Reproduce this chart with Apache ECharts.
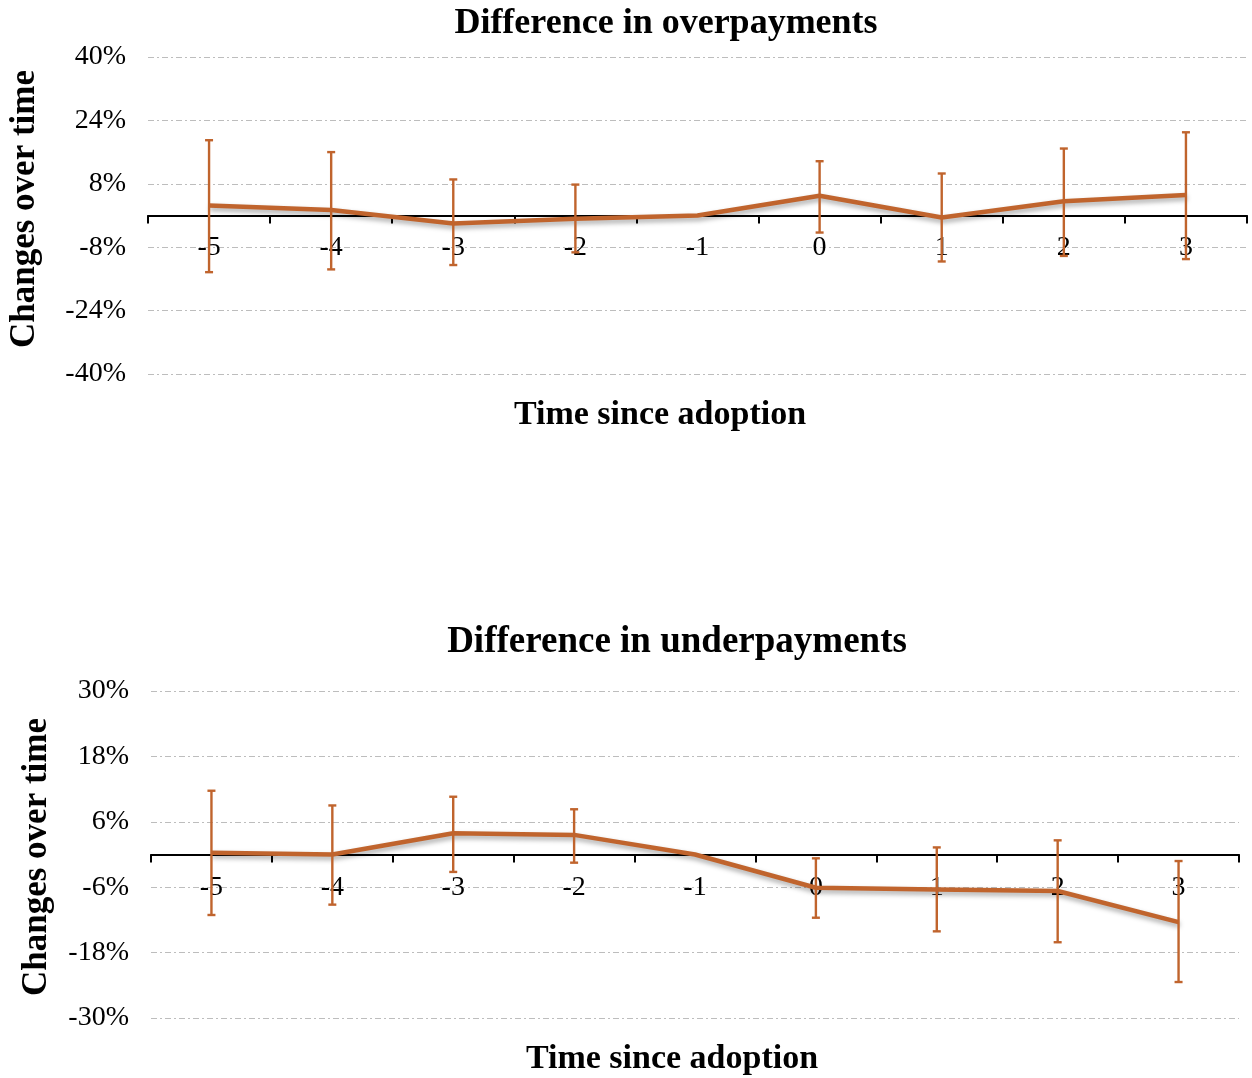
<!DOCTYPE html>
<html>
<head>
<meta charset="utf-8">
<script src="https://cdn.jsdelivr.net/npm/echarts@6/dist/echarts.min.js"></script>
<style>
html,body{margin:0;padding:0;background:#fff;}
#chart{width:1252px;height:1078px;}
</style>
</head>
<body>
<div id="chart"></div>
<script>
const categories = ['-5','-4','-3','-2','-1','0','1','2','3'];

const overTitle = 'Difference in overpayments';
const overValues = [2.5, 1.4, -2.0, -0.8, 0, 5.0, -0.5, 3.6, 5.2];
const overLow    = [-14.3, -13.6, -12.5, -9.3, null, -4.3, -11.6, -10.2, -11.0];
const overHigh   = [19.0, 16.0, 9.1, 7.8, null, 13.7, 10.6, 16.9, 21.0];
const overTicks  = {min: -40, max: 40, interval: 16};

const underTitle = 'Difference in underpayments';
const underValues = [0.3, 0.0, 3.9, 3.6, 0, -6.1, -6.4, -6.7, -12.4];
const underLow    = [-11.1, -9.2, -3.2, -1.5, null, -11.6, -14.1, -16.1, -23.4];
const underHigh   = [11.7, 9.0, 10.6, 8.3, null, -0.7, 1.3, 2.6, -1.2];
const underTicks  = {min: -30, max: 30, interval: 12};

const xName = 'Time since adoption';
const yName = 'Changes over time';

const COLOR = '#C0642D';
const SERIF = '"Liberation Serif", "Times New Roman", serif';

function errData(low, high) {
  const out = [];
  for (let i = 0; i < low.length; i++) {
    if (low[i] != null && high[i] != null) out.push([i, low[i], high[i]]);
  }
  return out;
}

function renderErr(params, api) {
  const x = api.value(0);
  const pHi = api.coord([x, api.value(2)]);
  const pLo = api.coord([x, api.value(1)]);
  const cw = 4;
  const st = {stroke: COLOR, lineWidth: 2.4};
  return {
    type: 'group',
    children: [
      {type: 'line', shape: {x1: pHi[0], y1: pHi[1], x2: pLo[0], y2: pLo[1]}, style: st},
      {type: 'line', shape: {x1: pHi[0]-cw, y1: pHi[1], x2: pHi[0]+cw, y2: pHi[1]}, style: st},
      {type: 'line', shape: {x1: pLo[0]-cw, y1: pLo[1], x2: pLo[0]+cw, y2: pLo[1]}, style: st}
    ]
  };
}

function xAxisCfg(gi, lblMargin) {
  return {
    type: 'category', gridIndex: gi, data: categories, boundaryGap: true,
    axisLine: {show: true, onZero: true, lineStyle: {color: '#000', width: 2}},
    axisTick: {show: true, length: 8, lineStyle: {color: '#000', width: 2}},
    axisLabel: {color: '#000', fontFamily: SERIF, fontSize: 28, margin: lblMargin},
    splitLine: {show: false}
  };
}
function yAxisCfg(gi, t) {
  return {
    type: 'value', gridIndex: gi, min: t.min, max: t.max, interval: t.interval,
    axisLine: {show: false}, axisTick: {show: false},
    axisLabel: {color: '#000', fontFamily: SERIF, fontSize: 28, margin: 22, formatter: '{value}%'},
    splitLine: {show: true, lineStyle: {color: '#bdbdbd', width: 1, type: [6, 3, 2, 3]}}
  };
}
function lineSeries(idx, vals) {
  return {
    type: 'line', xAxisIndex: idx, yAxisIndex: idx, data: vals,
    symbol: 'none', z: 3,
    lineStyle: {color: COLOR, width: 4.5, shadowColor: 'rgba(0,0,0,0.35)', shadowBlur: 5, shadowOffsetY: 3, shadowOffsetX: 1}
  };
}
function errSeries(idx, low, high) {
  return {
    type: 'custom', xAxisIndex: idx, yAxisIndex: idx,
    data: errData(low, high), renderItem: renderErr, z: 4,
    encode: {x: 0, y: [1, 2]}
  };
}
function txt(x, y, s, size, rot) {
  return {
    type: 'text', x: x, y: y, rotation: rot || 0,
    style: {text: s, fontFamily: SERIF, fontWeight: 'bold', fontSize: size, fill: '#000', align: 'center', verticalAlign: 'middle'}
  };
}

const chart = echarts.init(document.getElementById('chart'), null, {renderer: 'canvas'});
chart.setOption({
  animation: false,
  backgroundColor: '#fff',
  grid: [
    {left: 148, right: 5, top: 57, height: 317},
    {left: 151, right: 13, top: 691, height: 327}
  ],
  xAxis: [xAxisCfg(0, -140), xAxisCfg(1, -144)],
  yAxis: [yAxisCfg(0, overTicks), yAxisCfg(1, underTicks)],
  series: [
    lineSeries(0, overValues), errSeries(0, overLow, overHigh),
    lineSeries(1, underValues), errSeries(1, underLow, underHigh)
  ],
  graphic: [
    txt(666, 24, overTitle, 36),
    txt(660, 415, xName, 34),
    txt(25, 209, yName, 35, Math.PI / 2),
    txt(677, 642, underTitle, 37),
    txt(672, 1059, xName, 34),
    txt(37, 857, yName, 35, Math.PI / 2)
  ]
});
</script>
</body>
</html>
